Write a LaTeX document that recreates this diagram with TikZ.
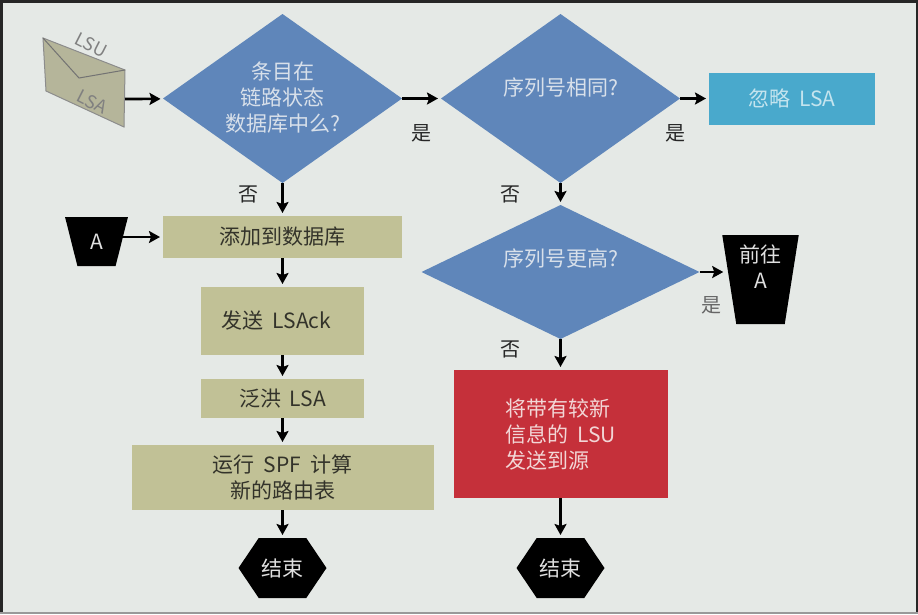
\documentclass[tikz,border=0pt]{standalone}
\usepackage{fontspec}
\setmainfont{Noto Sans CJK SC}
\usetikzlibrary{shapes.geometric, shapes.symbols, arrows.meta, calc, positioning}
\definecolor{paper}{HTML}{E5E9E6}
\definecolor{query}{HTML}{5F86BA}
\definecolor{action}{HTML}{C1C196}
\definecolor{warn}{HTML}{C5303A}
\definecolor{skip}{HTML}{49A9CC}
\definecolor{letter}{HTML}{B5B59A}
\definecolor{softwhite}{HTML}{D8E0EA}
\definecolor{softcyan}{HTML}{C4E4EE}
\definecolor{softred}{HTML}{F2D6D6}
\definecolor{ink}{HTML}{33332A}
\newcommand{\boxfont}{\fontsize{21}{26}\selectfont\spaceskip=.42em\relax}
\tikzstyle{query} = [diamond, aspect=1.41, inner sep=0pt, outer sep=0pt, fill=query, text=softwhite, align=center, font=\boxfont]
\tikzstyle{block} = [rectangle, outer sep=0pt, fill=action, text=ink, align=center, font=\boxfont]
\tikzstyle{finish} = [signal, signal to=west and east, signal pointer angle=112, inner sep=0pt, outer sep=0pt, minimum width=88pt, minimum height=60pt, fill=black, text=white!88!black, font=\boxfont]
\tikzstyle{jump} = [trapezium, shape border rotate=180, trapezium stretches=true, inner sep=0pt, outer sep=0pt, fill=black, text=white!88!black, align=center, font=\boxfont]
\tikzstyle{answer} = [text=black!85, font=\fontsize{20}{24}\selectfont]
\tikzstyle{stamp} = [rotate=-27, text=black!50, font=\fontsize{18}{20}\selectfont]
\tikzstyle{arrow} = [line width=2.6pt, -{Stealth[length=11pt, width=12pt, inset=2pt]}, shorten >=3pt]
\begin{document}
\begin{tikzpicture}[x=1pt, y=-1pt]
		\useasboundingbox (0,0) rectangle (918,614);
		\fill [paper] (0,0) rectangle (918,614);
		\draw [line width=2pt, black!40] (0,612.5) -- (918,612.5);
		\draw [line width=3pt, black!85] (1,612) -- (1,1) -- (917,1) -- (917,612);
		% envelope
		\draw [fill=letter, draw=black!45, line width=1pt] (43,38) -- (125,70) -- (124,127) -- (46,91) -- cycle;
		\draw [draw=black!55, line width=1pt] (43,38) -- (79,78) -- (125,70);
		\node (LSU) [stamp] at (91,45) {LSU};
		\node (LSA) [stamp] at (92,102) {LSA};
		\coordinate (LetterOut) at (125,99);
		% left column
		\node (InDatabase) [query, minimum width=239pt, minimum height=169pt, text depth=4pt] at (282.5,98.5) {条目在\\链路状态\\数据库中么?};
		\node (AddEntry) [block, minimum width=239pt, minimum height=42pt, below = 33pt of InDatabase] {添加到数据库};
		\node (SendAck) [block, minimum width=163pt, minimum height=68pt, below = 29pt of AddEntry] {发送 LSAck\hspace*{12pt}};
		\node (Flood) [block, minimum width=163pt, minimum height=39pt, below = 24pt of SendAck] {泛洪 LSA};
		\node (RunSPF) [block, minimum width=302pt, minimum height=65pt, below = 27pt of Flood] {运行 SPF 计算\\新的路由表};
		\node (EndLeft) [finish, below = 28pt of RunSPF] {结束};
		\node (TagA) [jump, trapezium angle=75, minimum width=63pt, minimum height=49pt] at (96.5,241.5) {A};
		% right column
		\node (SameSeq) [query, minimum width=239pt, minimum height=169pt, text depth=24pt, right = 39pt of InDatabase] {序列号相同?};
		\node (Ignore) [block, fill=skip, text=softcyan, minimum width=166pt, minimum height=52pt, right = 29pt of SameSeq] {忽略 LSA};
		\node (HigherSeq) [query, minimum width=278pt, minimum height=134pt, text depth=28pt, below = 22pt of SameSeq] {序列号更高?};
		\node (SendNewer) [block, fill=warn, text=softred, align=left, minimum width=214pt, minimum height=128pt, below = 31pt of HigherSeq] {将带有较新\\信息的 LSU\\发送到源};
		\node (EndRight) [finish, below = 40pt of SendNewer] {结束};
		\node (GotoA) [jump, trapezium angle=80, minimum width=77pt, minimum height=89pt, text depth=25pt] at (760.5,279.5) {前往\\A};
		% connectors
		\draw [arrow] (LetterOut) -- (InDatabase);
		\draw [arrow] (InDatabase) -- node (YesOne) [answer, xshift=0pt, yshift=-35pt] {是} (SameSeq);
		\draw [arrow] (SameSeq) -- node (YesTwo) [answer, xshift=-19pt, yshift=-35pt] {是} (Ignore);
		\draw [arrow] (InDatabase) -- node (NoOne) [answer, xshift=-34pt, yshift=5pt] {否} (AddEntry);
		\draw [arrow] (SameSeq) -- node (NoTwo) [answer, xshift=-50pt, yshift=0pt] {否} (HigherSeq);
		\draw [arrow] (HigherSeq) -- node (NoThree) [answer, xshift=-50pt, yshift=5pt] {否} (SendNewer);
		\draw [arrow, shorten >=6pt] (HigherSeq) -- node (YesThree) [answer, text=black!60, xshift=-3pt, yshift=-33pt] {是} (HigherSeq -| GotoA.west);
		\draw [arrow] (AddEntry -| TagA.east) -- (AddEntry);
		\draw [arrow] (AddEntry) -- (SendAck);
		\draw [arrow] (SendAck) -- (Flood);
		\draw [arrow] (Flood) -- (RunSPF);
		\draw [arrow] (RunSPF) -- (EndLeft);
		\draw [arrow] (SendNewer) -- (EndRight);
		\end{tikzpicture}
\end{document}
